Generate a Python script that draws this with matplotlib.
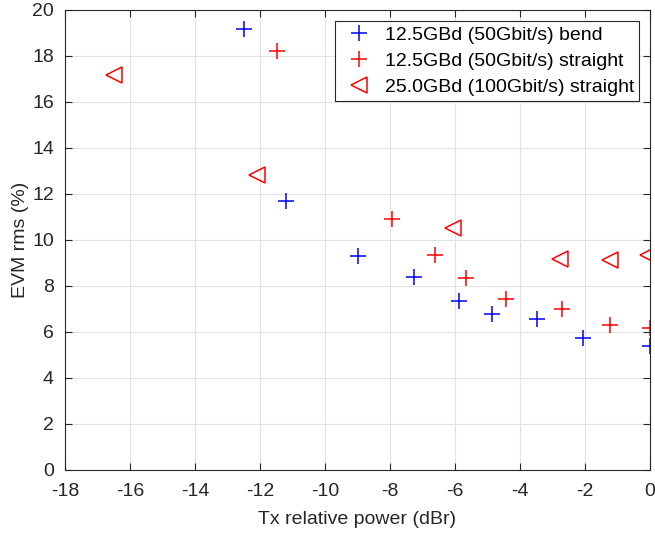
import numpy as np
import matplotlib
matplotlib.use("Agg")
import matplotlib.pyplot as plt

plt.rcParams['font.family'] = ['Liberation Sans', 'DejaVu Sans']
plt.rcParams['axes.unicode_minus'] = False

# 12.5GBd bend
bend_x = [-12.5, -11.2, -9.0, -7.26, -5.88, -4.86, -3.49, -2.07, 0.0]
bend_y = [19.16, 11.71, 9.32, 8.41, 7.36, 6.78, 6.55, 5.72, 5.39]

# 12.5GBd straight
str_x = [-11.47, -7.95, -6.62, -5.67, -4.43, -2.7, -1.23, 0.0]
str_y = [18.23, 10.9, 9.35, 8.33, 7.45, 7.01, 6.30, 6.19]

# 25.0GBd straight
s25_x = [-16.5, -12.1, -6.07, -2.77, -1.23, -0.06]
s25_y = [17.17, 12.84, 10.51, 9.17, 9.13, 9.33]

labels = ['12.5GBd (50Gbit/s) bend',
          '12.5GBd (50Gbit/s) straight',
          '25.0GBd (100Gbit/s) straight']

dark = '#262626'
fs = 14

fig = plt.figure(figsize=(6.55, 5.35), dpi=100)
ax = fig.add_axes([65/655, 65/535, 585/655, 460/535])

ax.plot(bend_x, bend_y, linestyle='none', marker='+', color='blue',
        markersize=12, markeredgewidth=1.1, label=labels[0])
ax.plot(str_x, str_y, linestyle='none', marker='+', color='red',
        markersize=12, markeredgewidth=1.1, label=labels[1])
ax.plot(s25_x, s25_y, linestyle='none', marker='<', color='red',
        markerfacecolor='none', markersize=11, markeredgewidth=1.1,
        label=labels[2])

ax.set_xlim(-18, 0)
ax.set_ylim(0, 20)
ax.set_xticks(np.arange(-18, 1, 2))
ax.set_yticks(np.arange(0, 21, 2))
ax.grid(True, color='#e3e3e3', linewidth=0.8)
ax.set_axisbelow(True)

for s in ax.spines.values():
    s.set_color(dark)
    s.set_linewidth(0.8)
ax.tick_params(direction='in', top=True, right=True, length=5,
               colors=dark, labelsize=fs, width=0.8)
ax.tick_params(axis='x', pad=9)
ax.tick_params(axis='y', pad=8)

ax.set_xlabel('Tx relative power (dBr)', fontsize=fs, color=dark, labelpad=8)
ax.set_ylabel('EVM rms (%)', fontsize=fs, color=dark, labelpad=2)

leg = ax.legend(loc='upper right', bbox_to_anchor=(0.981, 0.976),
                borderaxespad=0, fontsize=fs, fancybox=False,
                framealpha=1, edgecolor=dark, handlelength=2.0,
                handletextpad=0.3, borderpad=0.25, labelspacing=0.45)
leg.get_frame().set_linewidth(0.8)

fig.savefig('out.png', dpi=100)
